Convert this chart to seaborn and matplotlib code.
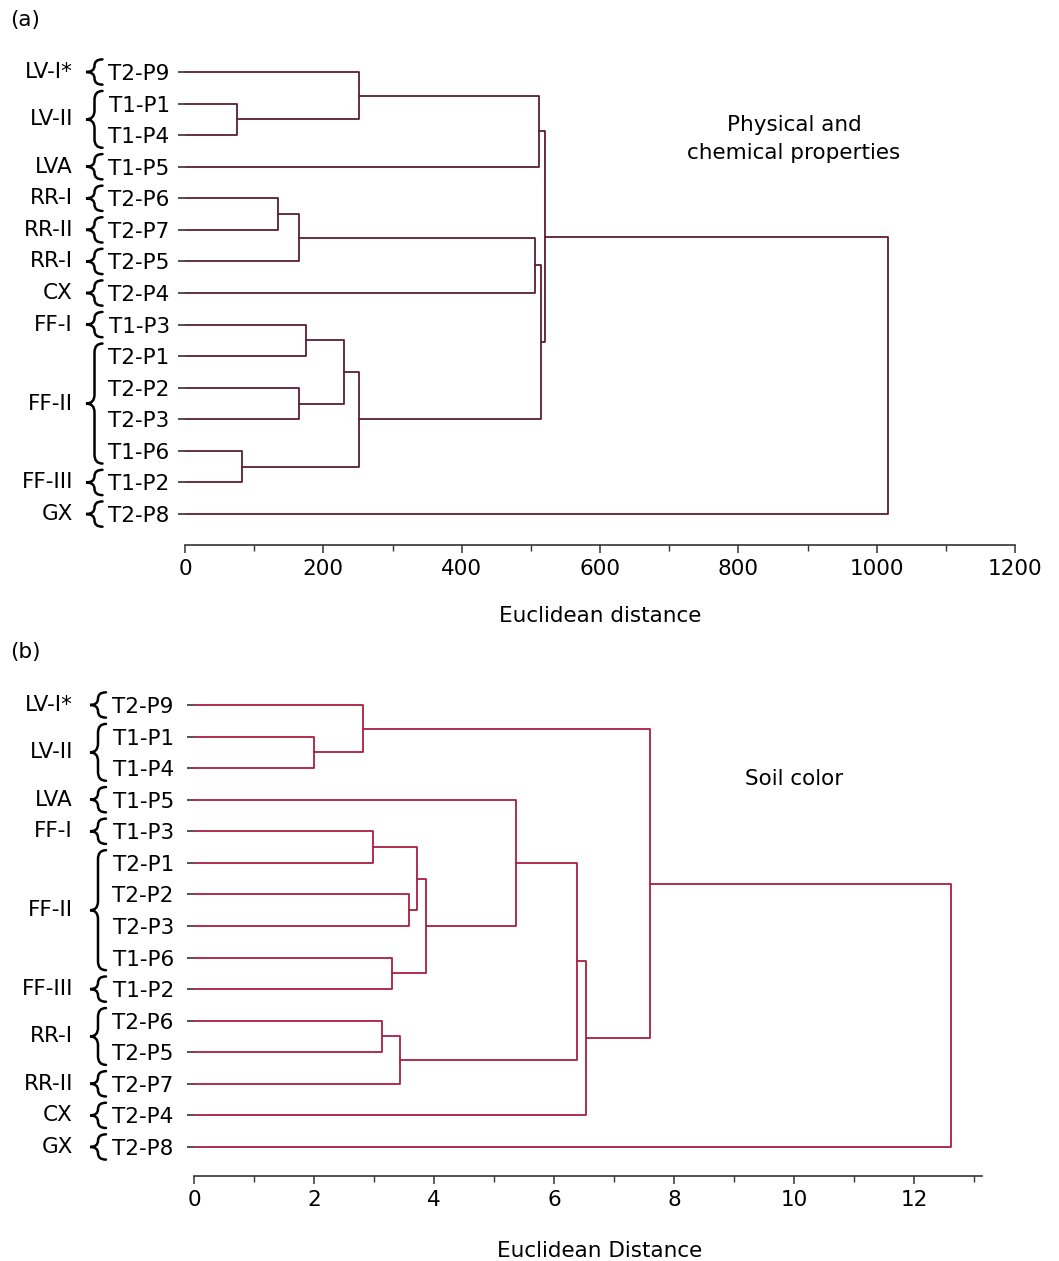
import numpy as np
import pandas as pd
import matplotlib
matplotlib.use("Agg")
import matplotlib.pyplot as plt
import seaborn as sns
from matplotlib.path import Path
from matplotlib.patches import PathPatch
from matplotlib import transforms
from matplotlib.ticker import MultipleLocator

# ---------------- data ----------------
# Panel (a): physical and chemical properties
leaves_a = ["T2-P9", "T1-P1", "T1-P4", "T1-P5", "T2-P6", "T2-P7", "T2-P5", "T2-P4",
            "T1-P3", "T2-P1", "T2-P2", "T2-P3", "T1-P6", "T1-P2", "T2-P8"]
group_names_a = ["LV-I*", "LV-II", "LVA", "RR-I", "RR-II", "RR-I", "CX", "FF-I", "FF-II", "FF-III", "GX"]
group_sizes_a = [1, 2, 1, 1, 1, 1, 1, 1, 4, 1, 1]
# merges: (child1, child2, distance); children 0..14 are leaves, 15+ are earlier merges
merge_left_a = [1, 0, 16, 4, 18, 19, 8, 10, 21, 12, 23, 20, 17, 27]
merge_right_a = [2, 15, 3, 5, 6, 7, 9, 11, 22, 13, 24, 25, 26, 14]
merge_height_a = [75, 252, 512, 134, 165, 506, 175, 165, 230, 83, 252, 515, 521, 1016]

# Panel (b): soil color
leaves_b = ["T2-P9", "T1-P1", "T1-P4", "T1-P5", "T1-P3", "T2-P1", "T2-P2", "T2-P3",
            "T1-P6", "T1-P2", "T2-P6", "T2-P5", "T2-P7", "T2-P4", "T2-P8"]
group_names_b = ["LV-I*", "LV-II", "LVA", "FF-I", "FF-II", "FF-III", "RR-I", "RR-II", "CX", "GX"]
group_sizes_b = [1, 2, 1, 1, 4, 1, 2, 1, 1, 1]
merge_left_b = [1, 0, 4, 6, 17, 8, 19, 3, 10, 23, 22, 25, 16, 27]
merge_right_b = [2, 15, 5, 7, 18, 9, 20, 21, 11, 12, 24, 13, 26, 14]
merge_height_b = [2.0, 2.81, 2.99, 3.59, 3.72, 3.30, 3.86, 5.36, 3.14, 3.44, 6.38, 6.54, 7.60, 12.62]

# ---------------- style ----------------
W, H = 1059, 1261
sns.set_style("white")
plt.rcParams["font.family"] = ["DejaVu Sans"]
plt.rcParams["text.color"] = "black"
plt.rcParams["axes.labelcolor"] = "black"
plt.rcParams["xtick.labelcolor"] = "black"
plt.rcParams["ytick.labelcolor"] = "black"
FS = 15.5

fig = plt.figure(figsize=(W / 100, H / 100), dpi=100)


def link_frame(n, lefts, rights, heights):
    pos = {i: (0.0, float(i)) for i in range(n)}
    rows = []
    for k, (a, b, h) in enumerate(zip(lefts, rights, heights)):
        ha, ya = pos[a]
        hb, yb = pos[b]
        for j, (x, y) in enumerate([(ha, ya), (h, ya), (h, yb), (hb, yb)]):
            rows.append({"link": k, "step": j, "x": x, "y": y})
        pos[n + k] = (h, (ya + yb) / 2.0)
    return pd.DataFrame(rows)


def draw_brace(ax, y0, y1, xt, xs, xa, lw=1.8):
    tr = transforms.blended_transform_factory(fig.transFigure, ax.transData)
    top, bot = y0 - 0.4, y1 + 0.4
    mid = (top + bot) / 2.0
    half = (bot - top) / 2.0
    r = min(0.28, half / 2.0)
    xt, xs, xa = xt / W, xs / W, xa / W
    verts = [(xa, top), (xs, top), (xs, top + r), (xs, mid - r),
             (xs, mid), (xt, mid), (xs, mid), (xs, mid + r),
             (xs, bot - r), (xs, bot), (xa, bot)]
    codes = [Path.MOVETO, Path.CURVE3, Path.CURVE3, Path.LINETO,
             Path.CURVE3, Path.CURVE3, Path.CURVE3, Path.CURVE3,
             Path.LINETO, Path.CURVE3, Path.CURVE3]
    patch = PathPatch(Path(verts, codes), transform=tr, fill=False,
                      edgecolor="black", lw=lw, clip_on=False, capstyle="round")
    ax.add_patch(patch)


def panel(rect_px, leaves, names, sizes, lefts, rights, heights, xmax, color,
          major, minor, xlabel, xlabel_x, xlabel_px, brace_x, ylim, ypad):
    left, top, right, bottom = rect_px
    ax = fig.add_axes([left / W, 1 - bottom / H, (right - left) / W, (bottom - top) / H])
    df = link_frame(len(leaves), lefts, rights, heights)
    sns.lineplot(data=df, x="x", y="y", units="link", estimator=None, sort=False,
                 color=color, lw=1.3, ax=ax, legend=False)
    ax.set_xlim(0, xmax)
    ax.set_ylim(*ylim)
    ax.set_yticks(range(len(leaves)))
    ax.set_yticklabels(leaves, fontsize=FS)
    ax.xaxis.set_major_locator(MultipleLocator(major))
    ax.xaxis.set_minor_locator(MultipleLocator(minor))
    ax.tick_params(axis="x", which="major", bottom=True, length=6, width=1.1,
                   color="#333333", labelsize=FS, pad=4)
    ax.tick_params(axis="x", which="minor", bottom=True, length=4, width=1.0, color="#333333")
    ax.tick_params(axis="y", left=True, length=5, width=1.2, color="#333333", pad=ypad)
    for s in ["top", "right", "left"]:
        ax.spines[s].set_visible(False)
    ax.spines["bottom"].set_color("#333333")
    ax.spines["bottom"].set_linewidth(1.2)
    ax.set_ylabel("")
    ax.set_xlabel(xlabel, fontsize=FS)
    ax.xaxis.label.set_verticalalignment("center")
    ax.xaxis.set_label_coords(xlabel_x, -xlabel_px / (bottom - top))
    ax.grid(False)
    # braces and group labels
    tr = transforms.blended_transform_factory(fig.transFigure, ax.transData)
    start = 0
    for name, size in zip(names, sizes):
        y0, y1 = start, start + size - 1
        draw_brace(ax, y0, y1, *brace_x)
        ax.text(73 / W, (y0 + y1) / 2.0, name, transform=tr, ha="right", va="center",
                fontsize=FS, clip_on=False)
        start += size
    return ax


ax_a = panel((185, 50, 1015, 545), leaves_a, group_names_a, group_sizes_a,
             merge_left_a, merge_right_a, merge_height_a, 1200, "#5a1e33",
             200, 100, "Euclidean distance", 0.5, 71, (86, 94.5, 102.5), (14.98, -0.697), 6.0)
ax_b = panel((194, 685, 982, 1176), leaves_b, group_names_b, group_sizes_b,
             merge_left_b, merge_right_b, merge_height_b, 13.13, "#a91f40",
             2, 1, "Euclidean Distance", 0.515, 75, (90, 98, 106), (14.92, -0.633), 9.5)

fig.text(794 / W, 1 - 139 / H, "Physical and\nchemical properties", ha="center",
         va="center", fontsize=FS, linespacing=1.45)
fig.text(794 / W, 1 - 779 / H, "Soil color", ha="center", va="center", fontsize=FS)
fig.text(10 / W, 1 - 20 / H, "(a)", ha="left", va="center", fontsize=FS)
fig.text(10 / W, 1 - 652 / H, "(b)", ha="left", va="center", fontsize=FS)

fig.savefig("out.png", dpi=100)
